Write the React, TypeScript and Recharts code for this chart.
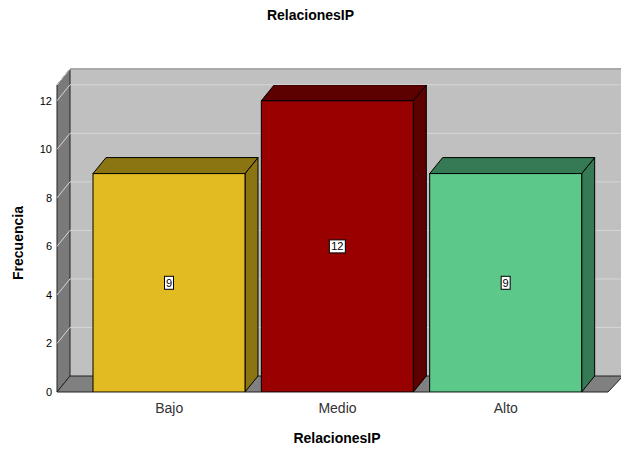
import { BarChart, Bar, XAxis, YAxis, CartesianGrid, Cell, LabelList } from 'recharts';

const categories = ['Bajo', 'Medio', 'Alto'];
const counts = [9, 12, 9];
const yTicks = [0, 2, 4, 6, 8, 10, 12];

const frontColors = ['#E1BB21', '#990000', '#5CC98A'];
const shadeColors = ['#8B7512', '#5C0000', '#357A54'];

const data = categories.map((name, i) => ({ name, value: counts[i] }));

const W = 621;
const H = 450;
// plot area of the front plane
const LEFT = 57;
const RIGHT = 608;
const TOP = 85;
const BOTTOM = 392;
// depth offset of the back plane
const DX = 13;
const DY = -16;

const font = '"Liberation Sans", Arial, sans-serif';

function Bar3D(props: any) {
  const { x, y, width, height, index } = props;
  if (width == null || height == null) return null;
  const front = frontColors[index];
  const shade = shadeColors[index];
  const top = `${x},${y} ${x + DX},${y + DY} ${x + width + DX},${y + DY} ${x + width},${y}`;
  const side = `${x + width},${y} ${x + width + DX},${y + DY} ${x + width + DX},${y + height + DY} ${x + width},${y + height}`;
  return (
    <g>
      <polygon points={side} fill={shade} stroke="#000" strokeWidth={1} />
      <polygon points={top} fill={shade} stroke="#000" strokeWidth={1} />
      <rect x={x} y={y} width={width} height={height} fill={front} stroke="#000" strokeWidth={1} />
    </g>
  );
}

function ValueBox(props: any) {
  const { x, y, width, height, value } = props;
  const cx = x + width / 2;
  const cy = y + height / 2;
  const w = String(value).length > 1 ? 16 : 9;
  return (
    <g>
      <rect x={cx - w / 2} y={cy - 6.5} width={w} height={13} fill="#fff" stroke="#000" strokeWidth={1} />
      <text x={cx} y={cy + 4} textAnchor="middle" fontSize={11} fontFamily={font} fill="#000">
        {value}
      </text>
    </g>
  );
}

function GridLine(props: any) {
  const { x1, y1 } = props;
  if (y1 >= BOTTOM - 1) return null;
  return (
    <g>
      <line x1={x1} y1={y1} x2={x1 + DX} y2={y1 + DY} stroke="#d6d6d6" strokeWidth={1} />
      <line x1={x1 + DX} y1={y1 + DY} x2={W} y2={y1 + DY} stroke="#d6d6d6" strokeWidth={1} />
    </g>
  );
}

function Backdrop() {
  return (
    <svg width={W} height={H} style={{ position: 'absolute', left: 0, top: 0 }}>
      <rect x={0} y={0} width={W} height={H} fill="#fff" />
      {/* back wall */}
      <rect x={LEFT + DX} y={TOP + DY} width={W - LEFT - DX} height={BOTTOM - TOP} fill="#C0C0C0" />
      <line x1={LEFT + DX} y1={TOP + DY} x2={W} y2={TOP + DY} stroke="#7a7a7a" strokeWidth={2} />
      {/* left wall */}
      <polygon
        points={`${LEFT},${TOP} ${LEFT + DX},${TOP + DY} ${LEFT + DX},${BOTTOM + DY} ${LEFT},${BOTTOM}`}
        fill="#7A7A7A"
        stroke="#222"
        strokeWidth={1}
      />
      {/* floor */}
      <polygon
        points={`${LEFT},${BOTTOM} ${LEFT + DX},${BOTTOM + DY} ${W},${BOTTOM + DY} ${W + 2},${BOTTOM + DY} ${RIGHT},${BOTTOM}`}
        fill="#808080"
        stroke="#222"
        strokeWidth={1}
      />
      <text x={W / 2} y={20} textAnchor="middle" fontSize={14} fontWeight="bold" fontFamily={font} fill="#000">
        RelacionesIP
      </text>
      <text x={337} y={443} textAnchor="middle" fontSize={14} fontWeight="bold" fontFamily={font} fill="#000">
        RelacionesIP
      </text>
      <text
        x={23}
        y={243}
        textAnchor="middle"
        fontSize={14}
        fontWeight="bold"
        fontFamily={font}
        fill="#000"
        transform="rotate(-90 23 243)"
      >
        Frecuencia
      </text>
    </svg>
  );
}

export default function App() {
  return (
    <div style={{ position: 'absolute', left: 0, top: 0, width: W, height: H }}>
      <Backdrop />
      <div style={{ position: 'absolute', left: 0, top: 0 }}>
        <BarChart
          width={W}
          height={H}
          data={data}
          margin={{ top: TOP, right: W - RIGHT, bottom: H - BOTTOM - 30, left: LEFT - 30 }}
        >
          <CartesianGrid vertical={false} horizontal={GridLine} />
          <XAxis
            dataKey="name"
            height={30}
            axisLine={false}
            tickLine={false}
            tickSize={0}
            tickMargin={11}
            padding={{ left: 28, right: 18 }}
            tick={{ fontSize: 14, fill: '#333', fontFamily: font }}
            interval={0}
          />
          <YAxis
            width={30}
            domain={[0, 12.65]}
            ticks={yTicks}
            axisLine={false}
            tickLine={false}
            tickSize={0}
            tickMargin={5}
            allowDataOverflow
            tick={{ fontSize: 11, fill: '#000', fontFamily: font }}
          />
          <Bar dataKey="value" barSize={152} shape={Bar3D} isAnimationActive={false}>
            {data.map((d, i) => (
              <Cell key={d.name} fill={frontColors[i]} />
            ))}
            <LabelList dataKey="value" content={ValueBox} />
          </Bar>
        </BarChart>
      </div>
    </div>
  );
}
